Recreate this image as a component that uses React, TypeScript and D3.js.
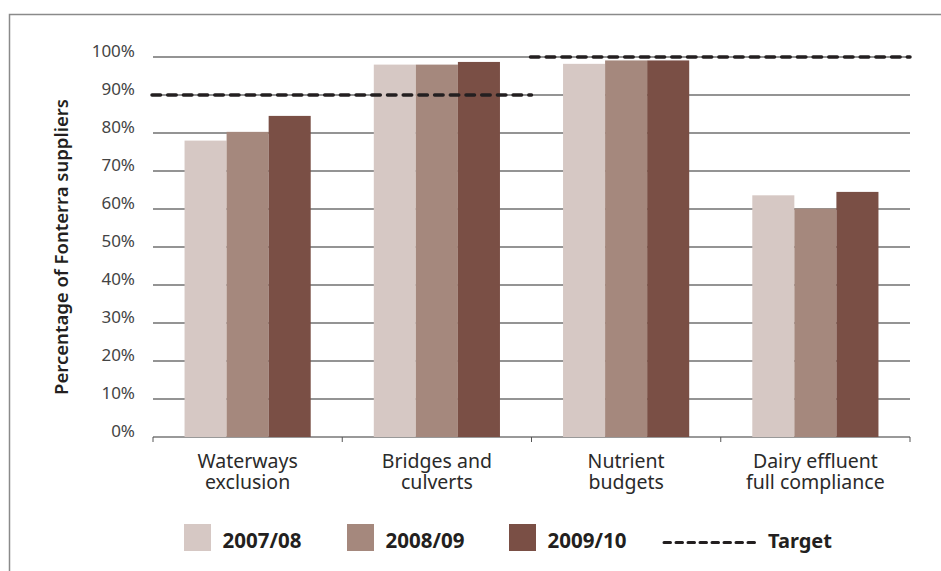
import React from 'react';
import * as d3 from 'd3';

const categories = ['Waterways\nexclusion', 'Bridges and\nculverts', 'Nutrient\nbudgets', 'Dairy effluent\nfull compliance'];
const seriesNames = ['2007/08', '2008/09', '2009/10'];
const values2007 = [78, 98, 98.2, 63.6];
const values2008 = [80.3, 98, 99.1, 60.1];
const values2009 = [84.5, 98.7, 99.1, 64.5];
const targets = [90, 90, 100, 100];
const yTicks = [0, 10, 20, 30, 40, 50, 60, 70, 80, 90, 100];
const colors = ['#d6c8c4', '#a5887d', '#7a4f45'];

const W = 941;
const H = 571;
const margin = { top: 57, left: 153, right: 31, bottom: 134 };

export default function App() {
  const innerW = W - margin.left - margin.right;
  const innerH = H - margin.top - margin.bottom;
  const x0 = d3.scaleBand<number>().domain(d3.range(categories.length)).range([0, innerW]).padding(0);
  const x1 = d3.scaleBand<string>().domain(seriesNames).range([0, x0.bandwidth()]).paddingInner(0).paddingOuter(0.75);
  const y = d3.scaleLinear().domain([0, 100]).range([innerH, 0]);
  const allValues = [values2007, values2008, values2009];

  // target segments: merge consecutive categories with the same target
  const segs: { v: number; a: number; b: number }[] = [];
  targets.forEach((t, i) => {
    const last = segs[segs.length - 1];
    if (last && last.v === t) last.b = i;
    else segs.push({ v: t, a: i, b: i });
  });

  const font = '"Noto Sans", "Open Sans", sans-serif';

  return (
    <svg width={W} height={H} style={{ position: 'absolute', left: 0, top: 0, background: '#fff' }} fontFamily={font}>
      <path d={`M9.5,${H} V14.5 H${W}`} fill="none" stroke="#8a8a8a" strokeWidth={1.5} />
      <text transform={`translate(68,${margin.top + innerH / 2}) rotate(-90)`} textAnchor="middle" fontSize={18.5} fontWeight={600} fill="#231f20">
        Percentage of Fonterra suppliers
      </text>
      <g transform={`translate(${margin.left},${margin.top})`}>
        {yTicks.map(t => (
          <g key={t}>
            <line x1={0} x2={innerW} y1={y(t)} y2={y(t)} stroke={t === 0 ? '#777' : '#707070'} strokeWidth={1.3} />
            <text x={-18} y={y(t)} dy="0.02em" textAnchor="end" fontSize={17} fill="#444">{t}%</text>
          </g>
        ))}
        {d3.range(categories.length + 1).map(i => (
          <line key={i} x1={i * x0.step()} x2={i * x0.step()} y1={innerH} y2={innerH + 5} stroke="#555" strokeWidth={1} />
        ))}
        {categories.map((c, ci) => (
          <g key={c} transform={`translate(${x0(ci)},0)`}>
            {seriesNames.map((s, si) => (
              <rect key={s} x={x1(s)} y={y(allValues[si][ci])} width={x1.bandwidth()} height={innerH - y(allValues[si][ci])} fill={colors[si]} />
            ))}
            {c.split('\n').map((ln, li) => (
              <text key={li} x={x0.bandwidth() / 2} y={innerH + 30.5 + li * 21.8} textAnchor="middle" fontSize={19.5} fill="#2a2a2a">{ln}</text>
            ))}
          </g>
        ))}
        {segs.map((s, i) => (
          <line key={i} x1={(x0(s.a) as number) - 1} x2={(x0(s.b) as number) + x0.bandwidth()} y1={y(s.v)} y2={y(s.v)}
            stroke="#231f20" strokeWidth={3.5} strokeDasharray="8.5 7.2" strokeLinecap="round" />
        ))}
      </g>
      <g>
        {seriesNames.map((s, i) => {
          const lx = [184, 347, 509][i];
          return (
            <g key={s}>
              <rect x={lx} y={524} width={27} height={27} fill={colors[i]} />
              <text x={lx + 38.5} y={548.3} fontSize={20.5} fontWeight={700} fill="#231f20">{s}</text>
            </g>
          );
        })}
        <line x1={664} x2={756} y1={542.5} y2={542.5} stroke="#231f20" strokeWidth={3} strokeDasharray="6.5 5.5" strokeLinecap="round" />
        <text x={768} y={548.3} fontSize={20} fontWeight={700} fill="#231f20">Target</text>
      </g>
    </svg>
  );
}
